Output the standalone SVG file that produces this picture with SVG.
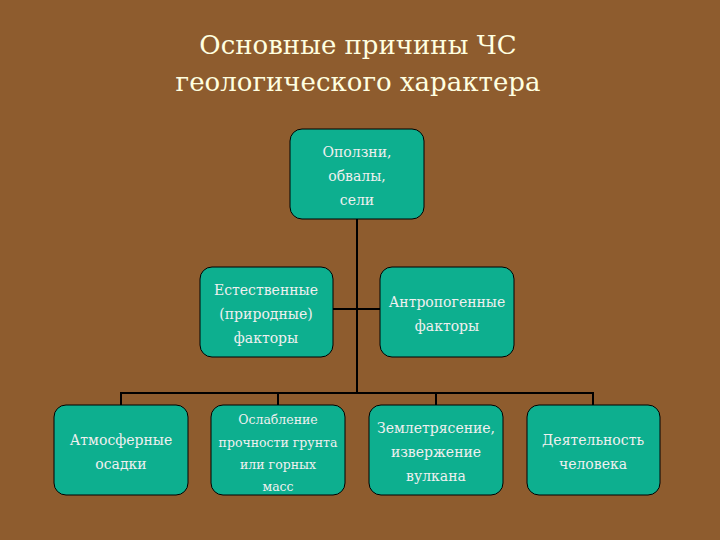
<svg xmlns="http://www.w3.org/2000/svg" width="720" height="540" viewBox="0 0 720 540">
<style>
.b{fill:#0DAF8F;stroke:#000;stroke-width:1}
.t{font-family:'DejaVu Serif','Liberation Serif',serif;font-size:14px;fill:#F0F0F0;text-anchor:middle}
.s{font-size:12.5px}
.h{font-family:'DejaVu Serif','Liberation Serif',serif;font-size:26px;fill:#FFFFE0;text-anchor:middle}
.c{stroke:#000;stroke-width:2;fill:none}
</style>
<rect width="720" height="540" fill="#8E5C2E"/>
<text class="h" x="358" y="54">Основные причины ЧС</text>
<text class="h" x="358" y="91">геологического характера</text>
<g id="connectors" class="c">
<path d="M357 219V393M333 309H380M121 405V393H593V405M278 393V405M436 393V405"/>
</g>
<g id="n0"><rect class="b" x="290" y="129" width="134" height="90" rx="12"/><text class="t" x="357" y="157">Оползни,</text><text class="t" x="357" y="181">обвалы,</text><text class="t" x="357" y="205">сели</text></g>
<g id="n1"><rect class="b" x="200" y="267" width="133" height="90" rx="12"/><text class="t" x="266" y="295">Естественные</text><text class="t" x="266" y="319">(природные)</text><text class="t" x="266" y="343">факторы</text></g>
<g id="n2"><rect class="b" x="380" y="267" width="134" height="90" rx="12"/><text class="t" x="447" y="307">Антропогенные</text><text class="t" x="447" y="331">факторы</text></g>
<g id="n3"><rect class="b" x="54" y="405" width="134" height="90" rx="12"/><text class="t" x="121" y="445">Атмосферные</text><text class="t" x="121" y="469">осадки</text></g>
<g id="n4"><rect class="b" x="211" y="405" width="134" height="90" rx="12"/><text class="t s" x="278" y="424">Ослабление</text><text class="t s" x="278" y="447">прочности грунта</text><text class="t s" x="278" y="469">или горных</text><text class="t s" x="278" y="491">масс</text></g>
<g id="n5"><rect class="b" x="369" y="405" width="134" height="90" rx="12"/><text class="t" x="436" y="433">Землетрясение,</text><text class="t" x="436" y="457">извержение</text><text class="t" x="436" y="481">вулкана</text></g>
<g id="n6"><rect class="b" x="527" y="405" width="133" height="90" rx="12"/><text class="t" x="593" y="445">Деятельность</text><text class="t" x="593" y="469">человека</text></g>
</svg>
